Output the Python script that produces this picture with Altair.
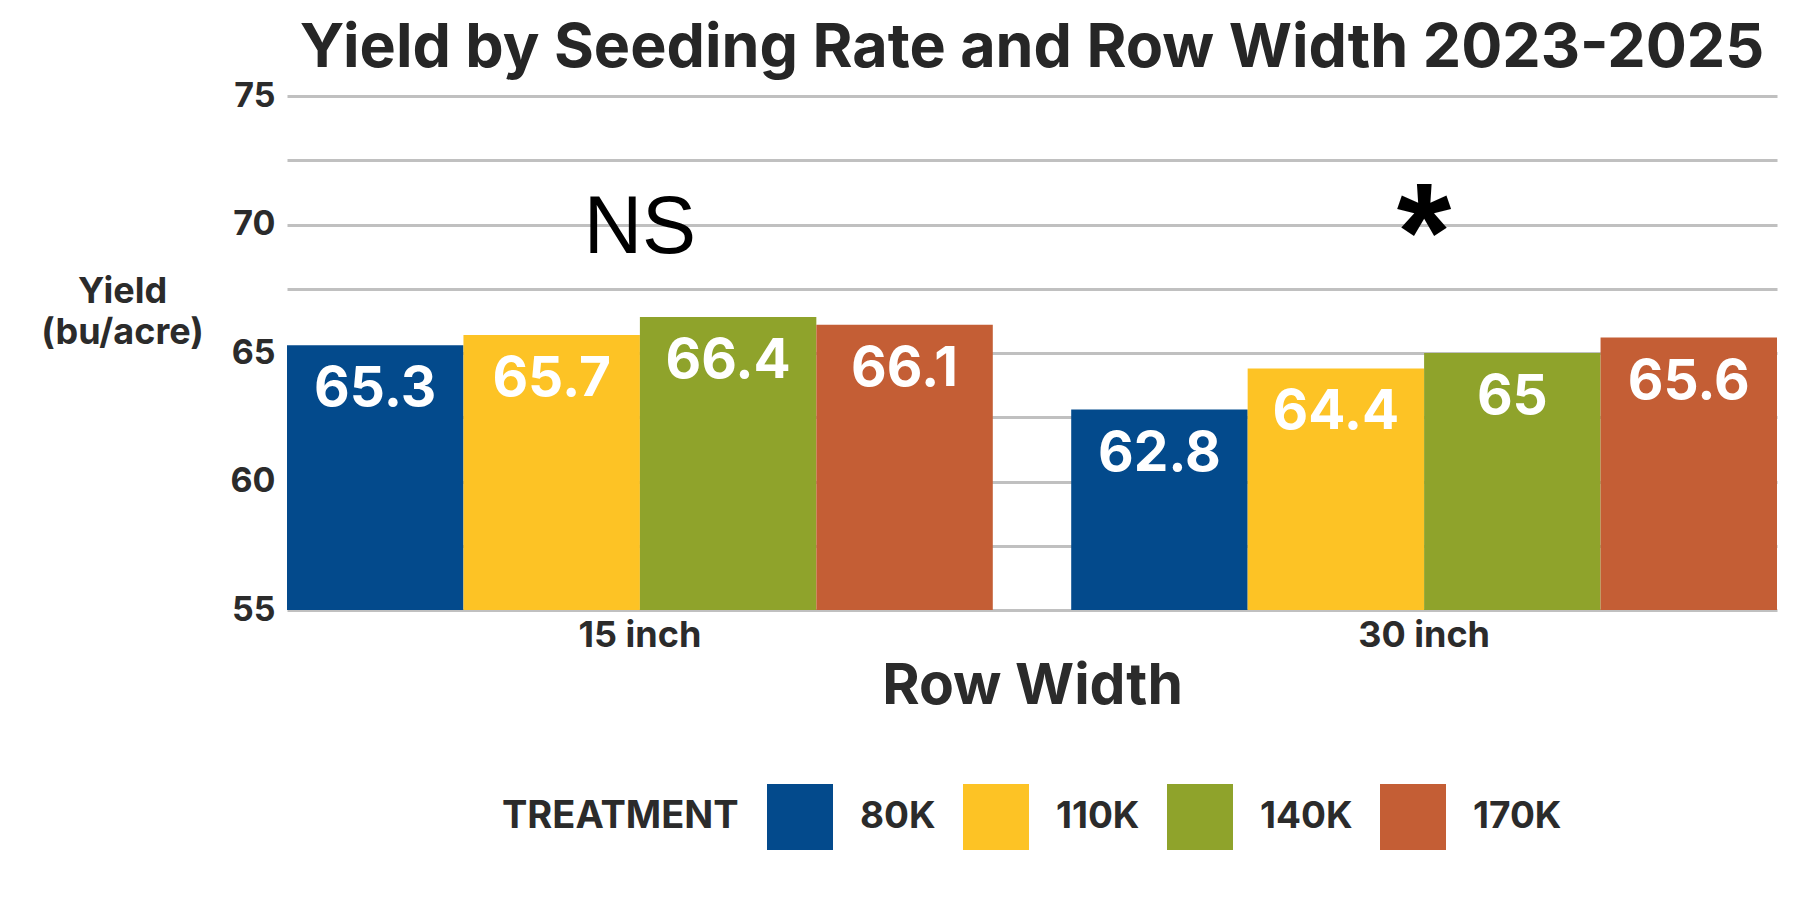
import altair as alt
import pandas as pd

row_widths = ["15 inch", "30 inch"]
treatments = ["80K", "110K", "140K", "170K"]
yield_15 = [65.3, 65.7, 66.4, 66.1]
yield_30 = [62.8, 64.4, 65.0, 65.6]
colors = ["#034A8C", "#FDC325", "#8FA32B", "#C45E35"]
label_text = ["65.3", "65.7", "66.4", "66.1", "62.8", "64.4", "65", "65.6"]
annot_text = ["NS", "*"]
annot_y = [68.9, 67.85]
y_grid = [55, 57.5, 60, 62.5, 65, 67.5, 70, 72.5, 75]

rows = []
i = 0
for rw, vals in zip(row_widths, [yield_15, yield_30]):
    for t, v in zip(treatments, vals):
        rows.append({"RowWidth": rw, "Treatment": t, "Yield": v, "Label": label_text[i]})
        i += 1
df = pd.DataFrame(rows)
ann = pd.DataFrame({"RowWidth": row_widths, "Text": annot_text, "Y": annot_y})

FONT = "Inter"
DARK = "#2b2b2b"

x_enc = alt.X(
    "RowWidth:N",
    sort=row_widths,
    scale=alt.Scale(paddingInner=0.1, paddingOuter=0),
    axis=alt.Axis(
        title="Row Width", titleFontSize=57, titleFont=FONT, titleFontWeight="bold",
        titleColor=DARK, titlePadding=5,
        labelFontSize=36, labelFont=FONT, labelFontWeight="bold", labelColor=DARK,
        labelPadding=8, ticks=False, tickSize=0, domain=False, labelAngle=0,
    ),
)
y_scale = alt.Scale(domain=[55, 75], nice=False, zero=False)

bars = alt.Chart(df).mark_bar().encode(
    x=x_enc,
    xOffset=alt.XOffset("Treatment:N", sort=treatments, scale=alt.Scale(paddingInner=0, paddingOuter=0)),
    y=alt.Y(
        "Yield:Q",
        scale=y_scale,
        axis=alt.Axis(
            values=y_grid,
            labelExpr="datum.value % 5 == 0 ? datum.label : ''",
            title=["Yield", "(bu/acre)"],
            titleAngle=0, titleAlign="center", titleBaseline="alphabetic",
            titleX=-165, titleY=206, titleLineHeight=41,
            titleFontSize=36, titleFont=FONT, titleFontWeight="bold", titleColor=DARK,
            labelFontSize=34, labelFont=FONT, labelFontWeight="bold", labelColor=DARK,
            labelPadding=12, ticks=False, tickSize=0, domain=False,
            gridColor="#c0c0c0", gridWidth=3,
        ),
    ),
    y2=alt.datum(55),
    color=alt.Color(
        "Treatment:N",
        sort=treatments,
        scale=alt.Scale(domain=treatments, range=colors),
        legend=alt.Legend(
            title="TREATMENT", orient="none", direction="horizontal",
            legendX=215, legendY=688, titleOrient="left",
            titleFontSize=38, titleFont=FONT, titleFontWeight="bold", titleColor=DARK,
            titlePadding=28, titleBaseline="middle", titleLimit=600,
            labelFontSize=37, labelFont=FONT, labelFontWeight="bold", labelColor=DARK,
            labelLimit=300,
            labelOffset=27, columnPadding=27, symbolType="square", symbolSize=4356,
            symbolStrokeWidth=0, symbolOpacity=1,
        ),
    ),
)

labels = alt.Chart(df).mark_text(
    baseline="top", dy=18, fontSize=55, font=FONT, fontWeight="bold", color="white"
).encode(
    x=alt.X("RowWidth:N", sort=row_widths),
    xOffset=alt.XOffset("Treatment:N", sort=treatments),
    y=alt.Y("Yield:Q"),
    text="Label:N",
)

ns = alt.Chart(ann).transform_filter("datum.Text == 'NS'").mark_text(
    baseline="alphabetic", fontSize=81, font="Liberation Sans", color="black"
).encode(x=alt.X("RowWidth:N", sort=row_widths), y="Y:Q", text="Text:N")

star = alt.Chart(ann).transform_filter("datum.Text == '*'").mark_text(
    baseline="alphabetic", fontSize=140, font="Liberation Sans", fontWeight="bold", color="black"
).encode(x=alt.X("RowWidth:N", sort=row_widths), y="Y:Q", text="Text:N")

chart = alt.layer(bars, labels, ns, star).properties(
    width=1490, height=514,
    title=alt.TitleParams(
        "Yield by Seeding Rate and Row Width 2023-2025",
        fontSize=61, font=FONT, fontWeight="bold", color="#262626",
        anchor="middle", baseline="alphabetic", offset=14, dy=63,
    ),
    autosize=alt.AutoSizeParams(type="none"),
    padding={"left": 279, "top": 88, "right": 15, "bottom": 270},
).configure(background="white").configure_view(stroke=None)

chart.save("out.html", embed_options={"renderer": "svg", "actions": False})
